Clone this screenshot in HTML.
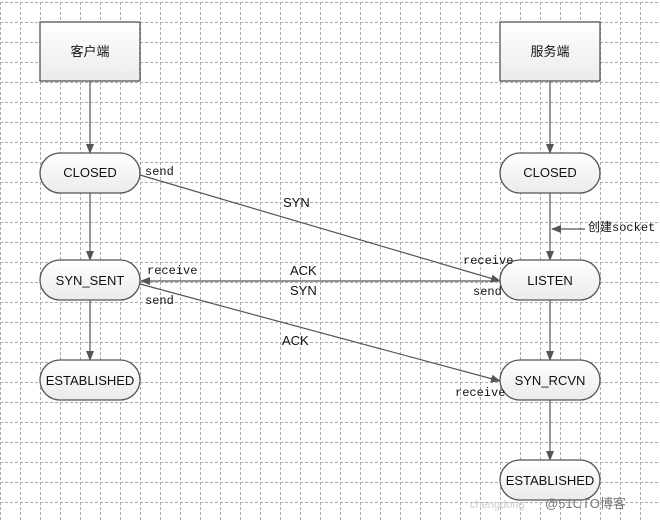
<html><head><style>
body{margin:0;width:660px;height:521px;overflow:hidden;background:#fff;font-family:"Liberation Sans","Noto Sans CJK SC",sans-serif}
svg text{font-family:"Liberation Sans","Noto Sans CJK SC",sans-serif}
.m{font-family:"Liberation Mono",monospace;font-size:12px}
</style></head><body>
<svg width="660" height="521" xmlns="http://www.w3.org/2000/svg">
<defs>
<pattern id="g" width="20" height="20" patternUnits="userSpaceOnUse" x="0" y="2">
<path d="M0.5 0V20M0 0.5H20" stroke="#aaa" stroke-dasharray="3,2" fill="none"/>
</pattern>
<linearGradient id="f" x1="0" y1="0" x2="0" y2="1"><stop offset="0" stop-color="#fff"/><stop offset="1" stop-color="#ebebeb"/></linearGradient>
<marker id="a" markerWidth="10" markerHeight="10" refX="9" refY="5" orient="auto" markerUnits="userSpaceOnUse"><path d="M0 1L10 5L0 9Z" fill="#555"/></marker>
</defs>
<rect width="660" height="521" fill="url(#g)"/>
<g stroke="#555" stroke-width="1.2" fill="none">
<line x1="90" y1="81" x2="90" y2="153" marker-end="url(#a)"/>
<line x1="90" y1="193" x2="90" y2="260" marker-end="url(#a)"/>
<line x1="90" y1="300" x2="90" y2="360" marker-end="url(#a)"/>
<line x1="550" y1="81" x2="550" y2="153" marker-end="url(#a)"/>
<line x1="550" y1="193" x2="550" y2="260" marker-end="url(#a)"/>
<line x1="550" y1="300" x2="550" y2="360" marker-end="url(#a)"/>
<line x1="550" y1="400" x2="550" y2="460" marker-end="url(#a)"/>
<line x1="585" y1="229" x2="552" y2="229" marker-end="url(#a)"/>
<line x1="140" y1="175" x2="500" y2="281" marker-end="url(#a)"/>
<line x1="500" y1="281" x2="141" y2="281" marker-end="url(#a)"/>
<line x1="140" y1="284" x2="500" y2="381" marker-end="url(#a)"/>
</g>
<g stroke="#555" stroke-width="1.3" fill="url(#f)">
<rect x="40" y="22" width="100" height="59"/>
<rect x="500" y="22" width="100" height="59"/>
<rect x="40" y="153" width="100" height="40" rx="20"/>
<rect x="40" y="260" width="100" height="40" rx="20"/>
<rect x="40" y="360" width="100" height="40" rx="20"/>
<rect x="500" y="153" width="100" height="40" rx="20"/>
<rect x="500" y="260" width="100" height="40" rx="20"/>
<rect x="500" y="360" width="100" height="40" rx="20"/>
<rect x="500" y="460" width="100" height="40" rx="20"/>
</g>
<g font-size="13" text-anchor="middle" fill="#111">
<text x="90" y="56">客户端</text><text x="550" y="56">服务端</text>
<text x="90" y="177">CLOSED</text><text x="90" y="285">SYN_SENT</text><text x="90" y="385">ESTABLISHED</text>
<text x="550" y="177">CLOSED</text><text x="550" y="285">LISTEN</text><text x="550" y="385">SYN_RCVN</text><text x="550" y="485">ESTABLISHED</text>
</g>
<g fill="#111">
<text class="m" x="145" y="175">send</text>
<text class="m" x="147" y="274">receive</text>
<text class="m" x="145" y="304">send</text>
<text class="m" x="463" y="264">receive</text>
<text class="m" x="473" y="295">send</text>
<text class="m" x="455" y="396">receive</text>
<g font-size="13"><text x="283" y="207">SYN</text><text x="290" y="275">ACK</text><text x="290" y="295">SYN</text><text x="282" y="345">ACK</text></g>
<text x="588" y="231" font-size="12">创建<tspan class="m" font-size="12">socket</tspan></text>
</g>
<text x="545" y="508" font-size="13" fill="#777">@51CTO博客</text>
<text x="470" y="508" font-size="11" fill="#ccc">chengdong</text>
</svg>
</body></html>
